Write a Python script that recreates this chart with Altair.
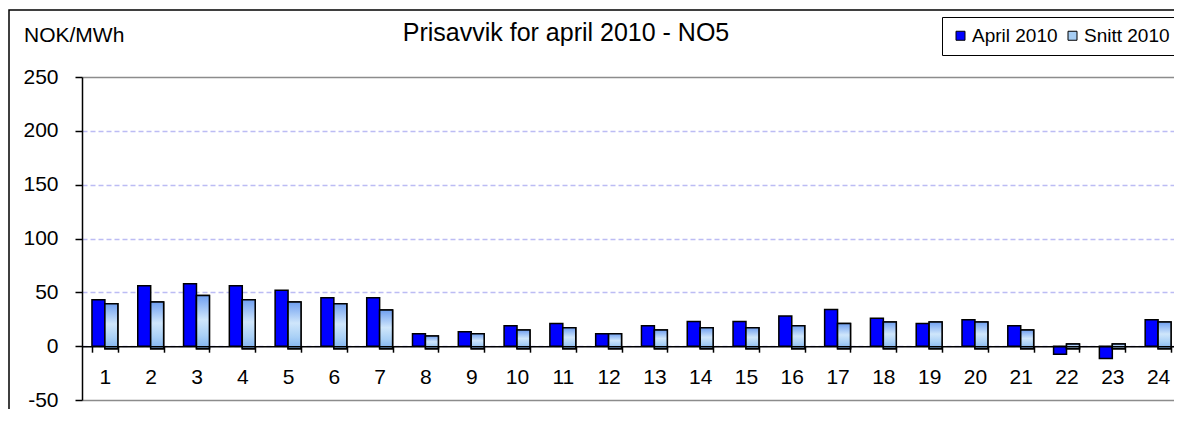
import altair as alt
import pandas as pd

# ---- data ----
hours = list(range(1, 25))
april_2010 = [43, 56, 58, 56, 52, 45, 45, 11.5, 13.5, 19, 21, 11.5,
              19, 23, 23, 28, 34, 26, 21, 24.5, 19, -7.5, -11.5, 24.5]
snitt_2010 = [39.5, 41, 47, 43, 41, 39.5, 33.5, 9.5, 11.5, 15, 17, 11.5,
              15, 17, 17, 19, 21, 22.5, 22.5, 22.5, 15, 2, 2, 22.5]
series = ["April 2010", "Snitt 2010"]
y_ticks = [-50, 0, 50, 100, 150, 200, 250]
title_text = ["Prisavvik for april 2010 - NO5"]
unit_text = ["NOK/MWh"]

# ---- styling ----
FONT = "Liberation Sans"
W, H = 1092, 323
X_RANGE = 1099
SNITT_BASE = -2.5

df = pd.DataFrame({"Time": hours, "April 2010": april_2010, "Snitt 2010": snitt_2010})

base = (
    alt.Chart(df)
    .transform_fold(series, as_=["Serie", "Verdi"])
    .transform_calculate(Base=f"datum.Serie === 'Snitt 2010' ? {SNITT_BASE} : 0")
)

x_enc = alt.X(
    "Time:O",
    title=None,
    scale=alt.Scale(range=[0, X_RANGE], paddingInner=0.435, paddingOuter=0.2175),
    axis=alt.Axis(
        orient="bottom", offset=-53.8, grid=False,
        domainColor="black", domainWidth=1.5,
        tickColor="black", tickWidth=1.5, tickSize=6, tickBand="extent",
        labelFont=FONT, labelFontSize=21, labelColor="black", labelAngle=0,
        labelPadding=25, labelBaseline="middle", zindex=1,
    ),
)
xo_enc = alt.XOffset("Serie:N", scale=alt.Scale(domain=series, paddingInner=0, paddingOuter=0), sort=series)
y_enc = alt.Y(
    "Verdi:Q",
    title=None,
    scale=alt.Scale(domain=[-50, 250], nice=False, zero=False),
    axis=alt.Axis(
        values=y_ticks, grid=True,
        gridColor={"condition": {"test": "datum.value === 250 || datum.value === -50", "value": "#8c8c8c"},
                   "value": "#bcbcf4"},
        gridDash={"condition": {"test": "datum.value === 250 || datum.value === -50", "value": []},
                  "value": [5, 3]},
        gridWidth=1.4,
        domainColor="black", domainWidth=1.5,
        tickColor="black", tickWidth=1.5, tickSize=7,
        labelFont=FONT, labelFontSize=21, labelColor="black", labelPadding=17,
        labelExpr="'' + datum.value",
    ),
)

bars = base.mark_bar(stroke="black", strokeWidth=1.5).encode(
    x=x_enc,
    xOffset=xo_enc,
    y=y_enc,
    y2=alt.Y2("Base:Q"),
    color=alt.Color(
        "Serie:N",
        scale=alt.Scale(domain=series, range=["#0000ff", "#a6cdf3"]),
        legend=alt.Legend(
            title=None, orient="none", legendX=860, legendY=-60, direction="horizontal",
            symbolType="square", symbolSize=81, symbolStrokeColor="black", symbolStrokeWidth=1,
            symbolOpacity=1, symbolOffset=0, labelFont=FONT, labelFontSize=19, labelColor="black",
            fillColor="white", strokeColor="black", padding=9, columnPadding=5, labelOffset=2,
        ),
    ),
)

gradient = alt.LinearGradient(
    gradient="linear",
    stops=[
        alt.GradientStop(color="#6f9ff0", offset=0),
        alt.GradientStop(color="#cfe6fb", offset=0.45),
        alt.GradientStop(color="#a9d0f6", offset=0.75),
        alt.GradientStop(color="#7fb2f0", offset=1),
    ],
    x1=0, x2=0, y1=0, y2=1,
)

snitt_overlay = (
    base.transform_filter("datum.Serie === 'Snitt 2010'")
    .mark_bar(color=gradient, stroke="black", strokeWidth=1.5)
    .encode(x=x_enc, xOffset=xo_enc, y=y_enc, y2=alt.Y2("Base:Q"))
)

frame = alt.Chart(pd.DataFrame({"k": [0]})).mark_rect(
    filled=False, stroke="black", strokeWidth=1.5
).encode(x=alt.value(-73), x2=alt.value(1140), y=alt.value(-67), y2=alt.value(420))

title = alt.Chart(pd.DataFrame({"t": title_text})).mark_text(
    font=FONT, fontSize=25, align="center", baseline="middle", color="black"
).encode(text="t:N", x=alt.value(484), y=alt.value(-44))

unit = alt.Chart(pd.DataFrame({"t": unit_text})).mark_text(
    font=FONT, fontSize=21, align="left", baseline="middle", color="black"
).encode(text="t:N", x=alt.value(-58), y=alt.value(-41))

chart = (
    alt.layer(frame, bars, snitt_overlay, title, unit)
    .properties(
        width=W, height=H,
        autosize=alt.AutoSizeParams(type="none"),
        padding={"left": 74, "top": 69, "right": 0, "bottom": 9},
        background="white",
    )
    .configure_view(strokeWidth=0)
)

chart.save("out.html", embed_options={"renderer": "svg", "actions": False})
